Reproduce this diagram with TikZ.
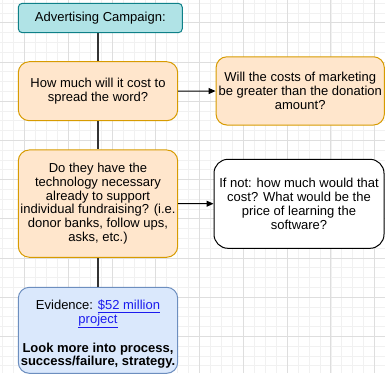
\documentclass[tikz,border=0pt]{standalone}
\usepackage{fontspec}
\setmainfont{Liberation Sans}
\usetikzlibrary{arrows.meta}
\definecolor{tealfill}{HTML}{b0e3e6}
\definecolor{tealline}{HTML}{0e8088}
\definecolor{orfill}{HTML}{ffe6cc}
\definecolor{orline}{HTML}{d79b00}
\definecolor{blfill}{HTML}{dae8fc}
\definecolor{blline}{HTML}{6c8ebf}
\definecolor{linkblue}{HTML}{1a1aee}
\definecolor{gridmajor}{HTML}{dedede}
\definecolor{gridminor}{HTML}{f1f1f1}

\begin{document}
\begin{tikzpicture}[x=1pt,y=-1pt,
  box/.style={draw,line width=1pt,rounded corners=11pt,align=center,
    inner sep=0pt,font=\fontsize{13}{13.7}\selectfont},
  title/.style={box,rounded corners=4pt,fill=tealfill,draw=tealline},
  question/.style={box,fill=orfill,draw=orline},
  note/.style={box,fill=white,draw=black,rounded corners=14pt},
  evidence/.style={box,fill=blfill,draw=blline},
  link/.style={draw=black!80,line width=1.2pt},
  >={Triangle[length=7pt,width=6pt]}]
  \useasboundingbox (0,0) rectangle (385,373);
  % background grid
  \foreach \i in {0,...,35}
    \draw[gridminor,line width=0.6pt] (2.6+\i*10.94,0) -- (2.6+\i*10.94,373);
  \foreach \i in {0,...,38}
    \draw[gridminor,line width=0.6pt] (0,3.1+\i*9.8) -- (385,3.1+\i*9.8);
  \foreach \i in {0,...,8}
    \draw[gridmajor,line width=0.8pt] (24.5+\i*43.75,0) -- (24.5+\i*43.75,373);
  \foreach \i in {0,...,9}
    \draw[gridmajor,line width=0.8pt] (0,22.7+\i*39.2) -- (385,22.7+\i*39.2);

  \node[title,minimum width=164pt,minimum height=29.4pt] (camp) at (100.3,18)
    {Advertising Campaign:};
  \node[question,minimum width=159.4pt,minimum height=59pt] (cost) at (98,91.2)
    {How much will it cost to\\spread the word?};
  \node[question,minimum width=168.3pt,minimum height=68.3pt] (greater) at (300.2,90.9)
    {Will the costs of marketing\\be greater than the donation\\amount?};
  \node[question,minimum width=159.4pt,minimum height=107.3pt] (tech) at (98,203.6)
    {Do they have the\\technology necessary\\already to support\\individual fundraising? (i.e.\\donor banks, follow ups,\\asks, etc.)};
  \node[note,minimum width=170pt,minimum height=89pt] (price) at (299,203.8)
    {If not: how much would that\\cost? What would be the\\price of learning the\\software?};
  \node[evidence,minimum width=159.4pt,minimum height=86pt] (evid) at (98,330.3)
    {\rule{0pt}{17.5pt}Evidence: {\color{linkblue}\underline{\$52 million}}\\{\color{linkblue}\underline{project}}\\[13.7pt]
     \textbf{Look more into process,}\\\textbf{success/failure, strategy.}};

  \draw[link] (cost.north) -- (cost.north |- camp.south);
  \draw[link] (cost) -- (tech);
  \draw[link] (tech) -- (evid);
  \draw[->,line width=1pt] (cost) -- (greater);
  \draw[->,line width=1pt] (tech) -- (price);
\end{tikzpicture}
\end{document}
